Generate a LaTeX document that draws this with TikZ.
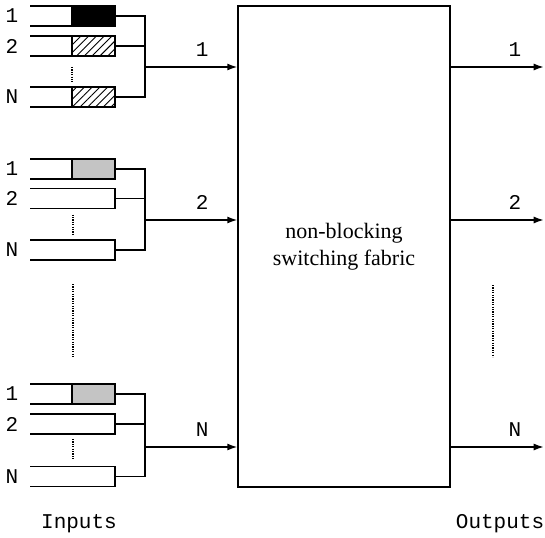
\documentclass[tikz,border=0pt]{standalone}
\usepackage{fontspec}
\setmainfont{Liberation Serif}
\setmonofont{Liberation Mono}
\usetikzlibrary{arrows.meta,positioning,patterns.meta}

\begin{document}
\begin{tikzpicture}[x=1pt, y=-1pt,
  line width=1.4pt,
  queue/.style={minimum width=85pt, minimum height=20pt, inner sep=0pt, outer sep=0pt},
  cell/.style={draw, minimum width=43pt, minimum height=20pt, inner sep=0pt, outer sep=0pt, anchor=east},
  hatch/.style={cell, pattern={Lines[angle=45, distance=5.5pt, line width=0.9pt]}},
  dotty/.style={cell, pattern={Dots[distance=2pt, radius=0.6pt]}},
  lab/.style={font=\ttfamily\fontsize{21}{24}\selectfont, inner sep=0pt},
  gap/.style={line width=1.2pt, dash pattern=on 1.2pt off 1.2pt},
  arr/.style={-{Latex[length=10pt, width=7pt]}}]
  \useasboundingbox (0,0) rectangle (545,537);
  % switching fabric
  \node[draw, minimum width=212pt, minimum height=481pt, inner sep=0pt, align=center,
        font=\fontsize{22}{27}\selectfont] (fab) at (344,246.5) {non-blocking\\switching fabric};
  % input port 1
  \node[queue] (a1) at (72.5,16) {};
  \node[queue] (a2) at (72.5,46) {};
  \node[queue] (aN) at (72.5,97) {};
  \node[cell, fill=black] (a1c) at (a1.east) {};
  \node[hatch] (a2c) at (a2.east) {};
  \node[hatch] (aNc) at (aN.east) {};
  \node[lab, left=11pt of a1] (a1l) {1};
  \node[lab, left=11pt of a2] (a2l) {2};
  \node[lab, left=11pt of aN] (aNl) {N};
  % input port 2
  \node[queue] (b1) at (72.5,169) {};
  \node[queue] (b2) at (72.5,198.5) {};
  \node[queue] (bN) at (72.5,250) {};
  \node[dotty] (b1c) at (b1.east) {};
  \node[lab, left=11pt of b1] (b1l) {1};
  \node[lab, left=11pt of b2] (b2l) {2};
  \node[lab, left=11pt of bN] (bNl) {N};
  % input port N
  \node[queue] (c1) at (72.5,394) {};
  \node[queue] (c2) at (72.5,424) {};
  \node[queue] (cN) at (72.5,476.5) {};
  \node[dotty] (c1c) at (c1.east) {};
  \node[lab, left=11pt of c1] (c1l) {1};
  \node[lab, left=11pt of c2] (c2l) {2};
  \node[lab, left=11pt of cN] (cNl) {N};
  \foreach \q in {a1,a2,aN,b1,b2,bN,c1,c2,cN}
    \draw (\q.north west) -- (\q.north east) -- (\q.south east) -- (\q.south west);
  % omitted queues and ports
  \draw[gap] (a2c.south west) ++(0,11) -- ++(0,15);
  \draw[gap] (b2.south) ++(0.5,6) -- ++(0,20);
  \draw[gap] (c2.south) ++(0.5,5) -- ++(0,20);
  \draw[gap] (73,284) -- (73,357);
  \draw[gap] (493,285) -- (493,357);
  % buses into the fabric
  \coordinate (ab) at (145,67);
  \coordinate (bb) at (145,220);
  \coordinate (cb) at (145,447);
  \draw (a1.east) -- (a1.east -| ab) -- (aN.east -| ab) -- (aN.east);
  \draw (a2.east) -- (a2.east -| ab);
  \draw (b1.east) -- (b1.east -| bb) -- (bN.east -| bb) -- (bN.east);
  \draw (b2.east) -- (b2.east -| bb);
  \draw (c1.east) -- (c1.east -| cb) -- (cN.east -| cb) -- (cN.east);
  \draw (c2.east) -- (c2.east -| cb);
  \draw[arr] (ab) -- (ab -| fab.west) node[lab, pos=0.62, above=10pt] (ai) {1};
  \draw[arr] (bb) -- (bb -| fab.west) node[lab, pos=0.62, above=10pt] (bi) {2};
  \draw[arr] (cb) -- (cb -| fab.west) node[lab, pos=0.62, above=10pt] (ci) {N};
  % outputs
  \draw[arr] (ab -| fab.east) -- ++(93,0) node[lab, pos=0.69, above=10pt] (ao) {1};
  \draw[arr] (bb -| fab.east) -- ++(93,0) node[lab, pos=0.69, above=10pt] (bo) {2};
  \draw[arr] (cb -| fab.east) -- ++(93,0) node[lab, pos=0.69, above=10pt] (co) {N};
  \node[lab] (inp) at (79,524) {Inputs};
  \node[lab] (outp) at (500,524) {Outputs};
\end{tikzpicture}
\end{document}
